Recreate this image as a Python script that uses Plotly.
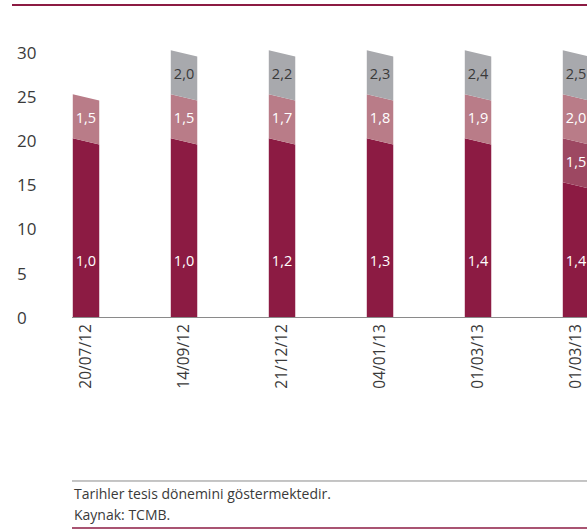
import plotly.graph_objects as go

# ---- data ----
dates = ["20/07/12", "14/09/12", "21/12/12", "04/01/13", "01/03/13", "01/03/13"]
# displayed label values (ratios) per layer
lbl_dark = [1.0, 1.0, 1.2, 1.3, 1.4, 1.4]
lbl_mid = [None, None, None, None, None, 1.5]
lbl_pink = [1.5, 1.5, 1.7, 1.8, 1.9, 2.0]
lbl_gray = [None, 2.0, 2.2, 2.3, 2.4, 2.5]
# segment heights as drawn
h_dark = [20, 20, 20, 20, 20, 15]
h_mid = [0, 0, 0, 0, 0, 5]
h_pink = [5, 5, 5, 5, 5, 5]
h_gray = [0, 5, 5, 5, 5, 5]
y_ticks = [0, 5, 10, 15, 20, 25, 30]

C_DARK = "#8C1B43"
C_MID = "#9D4862"
C_PINK = "#B97C88"
C_GRAY = "#A8A9AD"
TXT = "#3a3a3a"
FONT = "Open Sans"

W = 0.135      # half bar width (x units)
UP, DN = 0.3, 0.4  # slant of segment tops

fig = go.Figure()

layers = [(h_dark, lbl_dark, C_DARK, "white"),
          (h_mid, lbl_mid, C_MID, "white"),
          (h_pink, lbl_pink, C_PINK, "white"),
          (h_gray, lbl_gray, C_GRAY, TXT)]

base = [0.0] * len(dates)
for li, (hs, lbls, col, tcol) in enumerate(layers):
    xs, ys, tx, ty, tt = [], [], [], [], []
    for i, h in enumerate(hs):
        if h <= 0:
            continue
        b = base[i]
        t = b + h
        if b == 0:
            pts = [(i - W, 0), (i + W, 0), (i + W, t - DN), (i - W, t + UP)]
        else:
            pts = [(i - W, b + UP), (i + W, b - DN), (i + W, t - DN), (i - W, t + UP)]
        pts.append(pts[0])
        for px, py in pts:
            xs.append(px)
            ys.append(py)
        xs.append(None)
        ys.append(None)
        if lbls[i] is not None:
            tx.append(i)
            ty.append(6.25 if li == 0 else (b + t) / 2)
            tt.append(f"{lbls[i]:.1f}".replace(".", ","))
    for i, h in enumerate(hs):
        base[i] += h
    fig.add_trace(go.Scatter(x=xs, y=ys, fill="toself", fillcolor=col, mode="lines",
                             line=dict(width=0, color=col), hoverinfo="skip", showlegend=False))
    fig.add_trace(go.Scatter(x=tx, y=ty, mode="text", text=tt,
                             textfont=dict(family=FONT, size=14.5, color=tcol),
                             hoverinfo="skip", showlegend=False, cliponaxis=False))

# y tick labels (left aligned)
for v in y_ticks:
    fig.add_annotation(x=-0.1107, xref="paper", y=v, yref="y", text=str(v), showarrow=False,
                       xanchor="left", yanchor="middle", font=dict(family=FONT, size=17, color=TXT))

# decorative lines
fig.add_shape(type="line", xref="paper", yref="paper", x0=-0.1165, x1=1, y0=1.1429, y1=1.1429,
              line=dict(color=C_DARK, width=2))
fig.add_shape(type="line", xref="paper", yref="paper", x0=0, x1=1, y0=-0.6007, y1=-0.6007,
              line=dict(color="#8a8a8a", width=1))
fig.add_shape(type="line", xref="paper", yref="paper", x0=0, x1=1, y0=-0.7729, y1=-0.7729,
              line=dict(color=C_DARK, width=1.5))

fig.add_annotation(x=0, xref="paper", y=-0.645, yref="paper", text="Tarihler tesis dönemini göstermektedir.",
                   showarrow=False, xanchor="left", yanchor="middle", font=dict(family=FONT, size=14, color=TXT))
fig.add_annotation(x=0, xref="paper", y=-0.722, yref="paper", text="Kaynak: TCMB.",
                   showarrow=False, xanchor="left", yanchor="middle", font=dict(family=FONT, size=14, color=TXT))

fig.update_layout(
    width=587, height=529,
    margin=dict(l=72, r=0, t=44, b=212),
    paper_bgcolor="white", plot_bgcolor="white",
    xaxis=dict(range=[-0.143, 5.112], tickmode="array", tickvals=list(range(len(dates))),
               ticktext=dates, tickangle=-90, showgrid=False, zeroline=False,
               showline=True, linecolor="#8a8a8a", linewidth=1, ticks="",
               tickfont=dict(family=FONT, size=15.5, color=TXT)),
    yaxis=dict(range=[0, 31.02], showgrid=False, zeroline=False, showticklabels=False,
               showline=False, ticks=""),
)

fig.write_html("out.html", config={"displayModeBar": False},
               post_script="document.body.style.margin='0';document.body.style.overflow='hidden';")
